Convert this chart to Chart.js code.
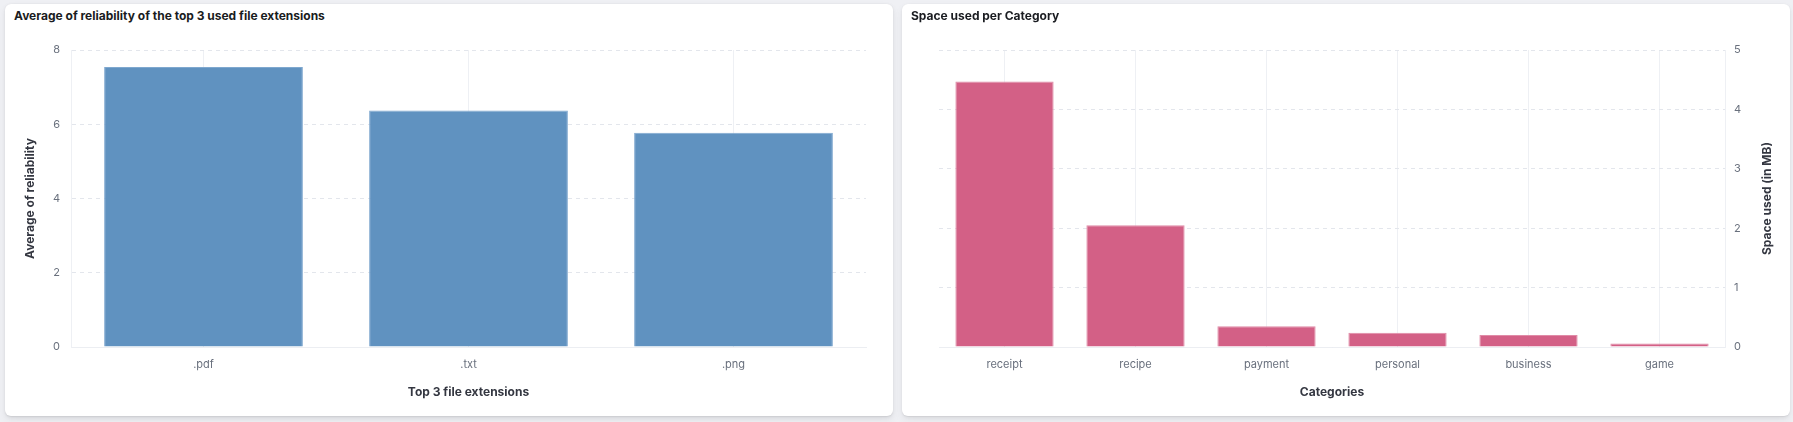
<!DOCTYPE html>
<html>
<head>
<meta charset="utf-8">
<script src="https://cdn.jsdelivr.net/npm/chart.js@4/dist/chart.umd.min.js"></script>
<style>
  html, body { margin: 0; padding: 0; }
  body { width: 1793px; height: 422px; background: #eff0f4; position: relative; overflow: hidden; font-family: Inter, "Noto Sans", sans-serif; }
  .panel { position: absolute; top: 4px; width: 888px; height: 412px; background: #fff; border-radius: 6px;
           box-shadow: 0 0.7px 1.4px rgba(0,0,0,0.07), 0 1.9px 4px rgba(0,0,0,0.05), 0 4.5px 10px rgba(0,0,0,0.05); }
  .panel h2 { position: absolute; left: 9px; top: 4px; margin: 0; font-size: 12px; font-weight: 700; color: #1a1c21; line-height: 16px; }
  .panel canvas { position: absolute; left: 0; top: 0; }
</style>
</head>
<body>
<div class="panel" style="left:5px"><h2>Average of reliability of the top 3 used file extensions</h2><div style="position:absolute;left:0;top:0;width:888px;height:412px"><canvas id="c1"></canvas></div></div>
<div class="panel" style="left:902px"><h2>Space used per Category</h2><div style="position:absolute;left:0;top:0;width:888px;height:412px"><canvas id="c2"></canvas></div></div>
<script>
const extLabels = ['.pdf', '.txt', '.png'];
const reliabilityValues = [7.54, 6.37, 5.77];
const reliabilityTicks = [0, 2, 4, 6, 8];

const categoryLabels = ['receipt', 'recipe', 'payment', 'personal', 'business', 'game'];
const spaceValues = [4.47, 2.05, 0.35, 0.24, 0.20, 0.06];
const spaceTicks = [0, 1, 2, 3, 4, 5];

const FONT = 'Inter, "Noto Sans", sans-serif';
const tickFont = { family: FONT, size: 11 };
const titleFont = { family: FONT, size: 12, weight: '700' };
const TICK_COLOR = '#69707d';
const TITLE_COLOR = '#343741';
const HGRID = '#e3e6ec';
const VGRID = '#eef0f4';

function xScale(title) {
  return {
    type: 'category',
    grid: { display: true, offset: false, color: VGRID, drawTicks: false, lineWidth: 1 },
    border: { display: true, color: '#eceef2' },
    ticks: { color: TICK_COLOR, font: tickFont, padding: 11, maxRotation: 0 },
    title: { display: true, text: title, color: TITLE_COLOR, font: titleFont, padding: { top: 0, bottom: 16 } },
    afterFit: s => { s.height = 69; }
  };
}

function yScale(pos, max, ticks, extra) {
  return Object.assign({
    position: pos, min: 0, max: max,
    afterBuildTicks: s => { s.ticks = ticks.map(v => ({ value: v })); },
    grid: { color: HGRID, drawTicks: false },
    border: { display: true, color: VGRID, dash: [4, 4] },
    ticks: { color: TICK_COLOR, font: tickFont, padding: pos === 'left' ? 11 : 9 }
  }, extra);
}

new Chart(document.getElementById('c1'), {
  type: 'bar',
  data: { labels: extLabels, datasets: [{ data: reliabilityValues, backgroundColor: '#6092c0', borderColor: '#7fa8cf', borderWidth: { top: 1, left: 1, right: 1, bottom: 0 }, categoryPercentage: 1, barPercentage: 0.75 }] },
  options: {
    responsive: true, maintainAspectRatio: false, animation: false,
    layout: { padding: { left: 0, right: 27, top: 46, bottom: 0 } },
    plugins: { legend: { display: false }, tooltip: { enabled: false } },
    scales: {
      x: xScale('Top 3 file extensions'),
      y: yScale('left', 8, reliabilityTicks, {
        title: { display: true, text: 'Average of reliability', color: TITLE_COLOR, font: titleFont, padding: { top: 18, bottom: 0 } },
        afterFit: s => { s.width = 66; }
      })
    }
  }
});

const rightTitlePlugin = {
  id: 'rightTitle',
  afterDraw(chart) {
    const s = chart.scales.y;
    const ctx = chart.ctx;
    ctx.save();
    ctx.translate(s.right - 23, (chart.chartArea.top + chart.chartArea.bottom) / 2);
    ctx.rotate(-Math.PI / 2);
    ctx.fillStyle = TITLE_COLOR;
    ctx.font = '700 12px ' + FONT;
    ctx.textAlign = 'center';
    ctx.textBaseline = 'middle';
    ctx.fillText('Space used (in MB)', 0, 0);
    ctx.restore();
  }
};

new Chart(document.getElementById('c2'), {
  type: 'bar',
  data: { labels: categoryLabels, datasets: [{ data: spaceValues, backgroundColor: '#d36086', borderColor: '#e08ba7', borderWidth: { top: 1, left: 1, right: 1, bottom: 0 }, categoryPercentage: 1, barPercentage: 0.75 }] },
  options: {
    responsive: true, maintainAspectRatio: false, animation: false,
    layout: { padding: { left: 37, right: 0, top: 46, bottom: 0 } },
    plugins: { legend: { display: false }, tooltip: { enabled: false } },
    scales: {
      x: xScale('Categories'),
      y: yScale('right', 5, spaceTicks, {
        title: { display: false },
        afterFit: s => { s.width = 65; }
      })
    }
  },
  plugins: [rightTitlePlugin]
});
</script>
</body>
</html>
